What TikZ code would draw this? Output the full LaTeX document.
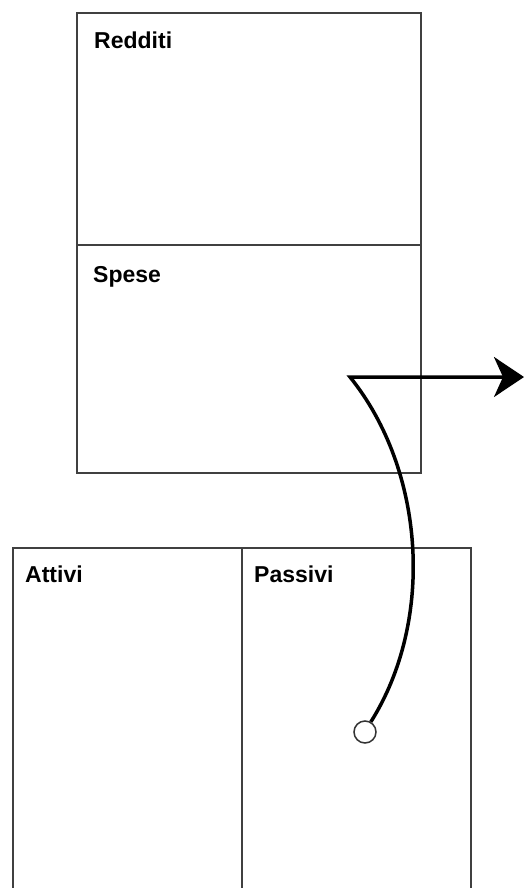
\documentclass[tikz,border=0pt]{standalone}
\usepackage{fontspec}
\setmainfont{Liberation Sans}
\usetikzlibrary{arrows.meta}
\begin{document}
\begin{tikzpicture}[x=1pt,y=-1pt,
  boxline/.style={draw=black!75,line width=1.4pt},
  lab/.style={anchor=base west,inner sep=0pt,font=\fontsize{23}{23}\selectfont\bfseries},
  flow/.style={line width=3.5pt,line join=miter},
  endring/.style={circle,draw=black!80,line width=1.5pt,fill=white,minimum size=22pt,inner sep=0pt}]
\clip (0,0) rectangle (525,888);
\fill[white] (0,0) rectangle (525,888);
% top box
\draw[boxline] (77,13) rectangle (421,245);
\draw[boxline] (77,245) rectangle (421,473);
\node[lab] (redditi) at (94,49) {Redditi};
\node[lab] (spese) at (93,282) {Spese};
% bottom box (continues below the picture)
\draw[boxline] (13,548) rectangle (242,900);
\draw[boxline] (242,548) rectangle (471,900);
\node[lab] (attivi) at (25,582) {Attivi};
\node[lab] (passivi) at (254,582) {Passivi};
% connector
\node[endring] (ring) at (365,732) {};
\coordinate (corner) at (350,377);
\coordinate (tip) at (524,377);
\draw[flow,-{Stealth[length=30pt,width=40pt,inset=9pt]}]
  (ring.60) .. controls (435,620) and (425,470) .. (corner) -- (tip);
\end{tikzpicture}
\end{document}
